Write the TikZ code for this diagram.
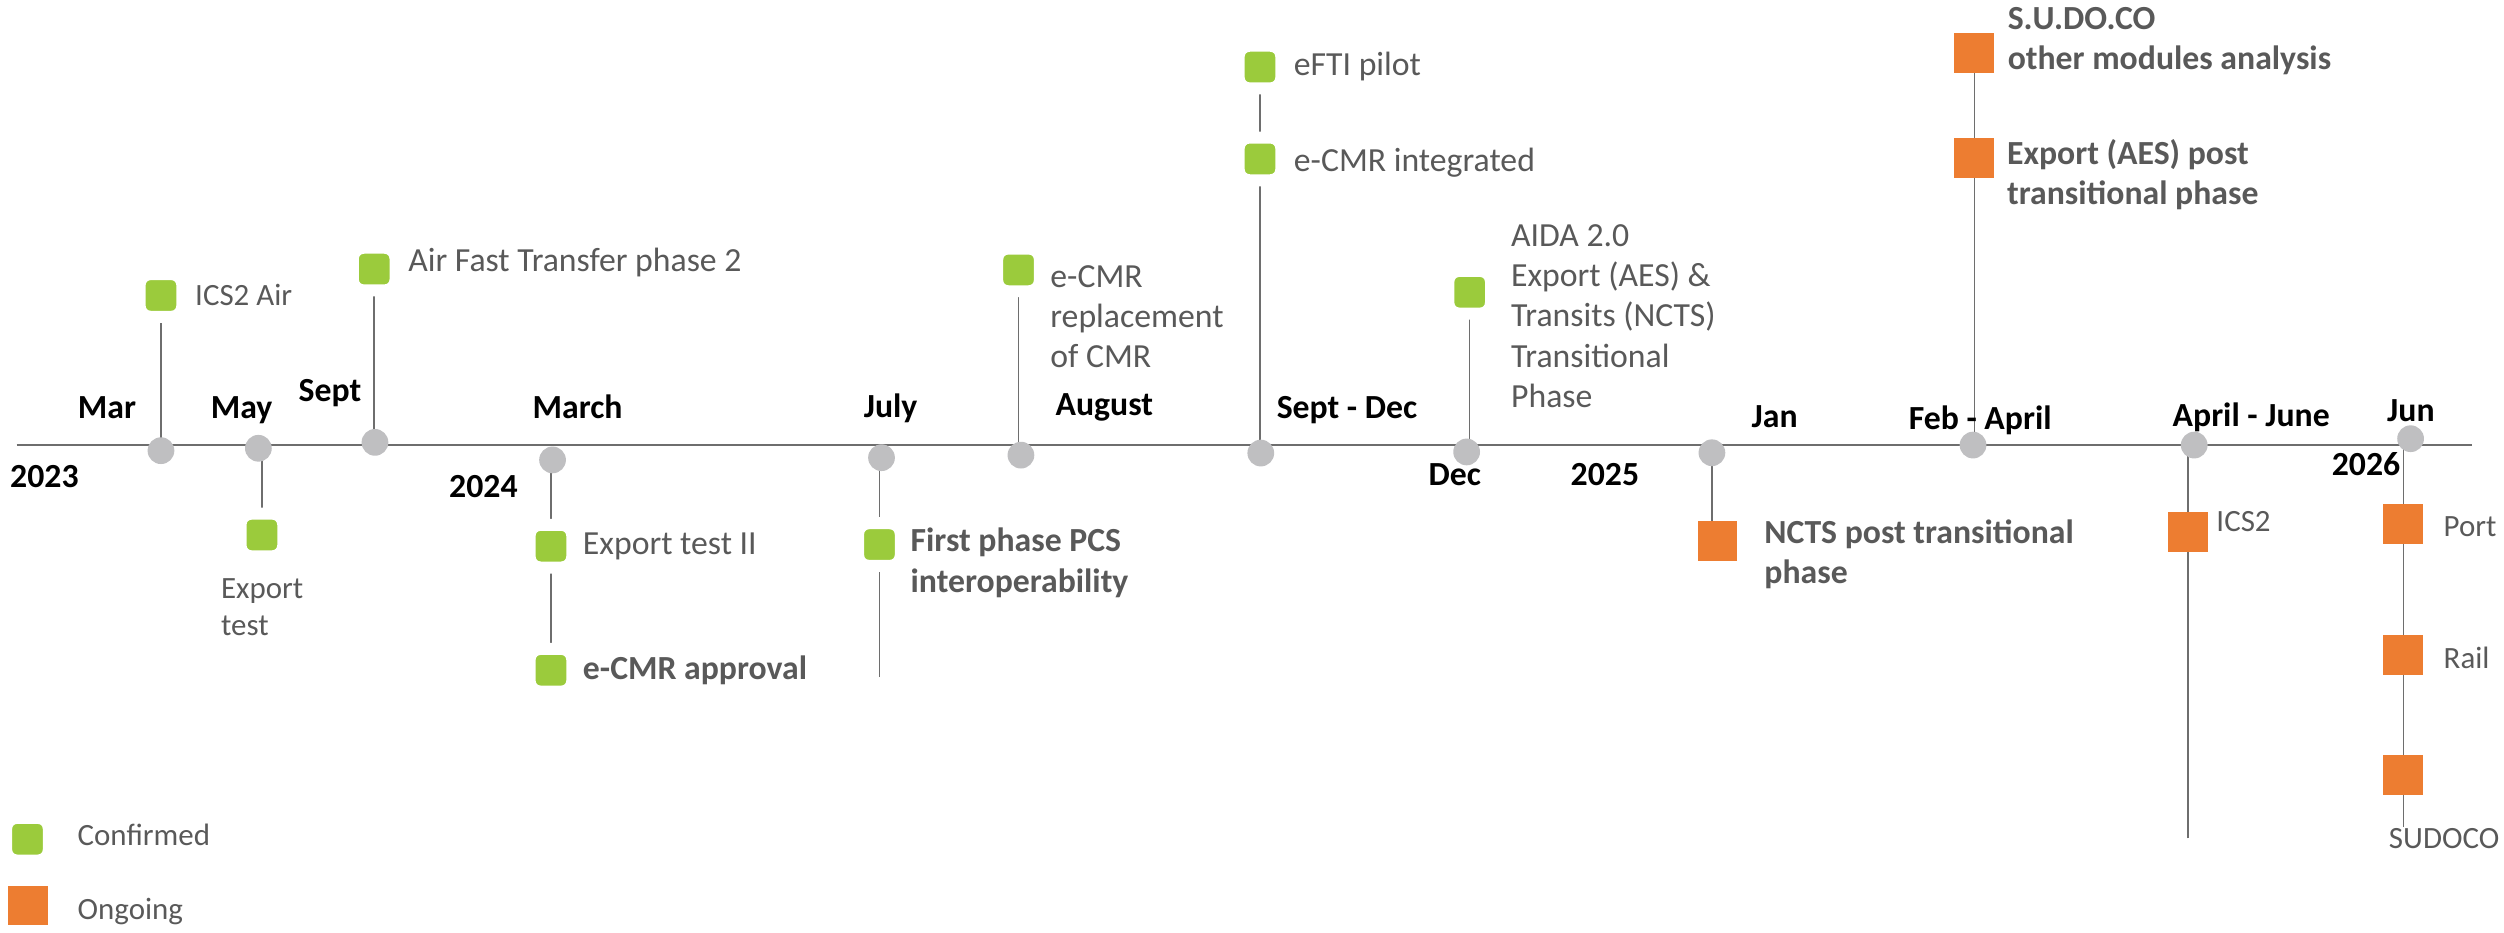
\documentclass[tikz,border=0pt]{standalone}
\usepackage{fontspec}
\setmainfont{Carlito}
\usetikzlibrary{backgrounds}
\definecolor{okgreen}{HTML}{9BCB3C}
\definecolor{wiporange}{HTML}{ED7D31}
\definecolor{dotgrey}{HTML}{BFBFC1}
\definecolor{linegrey}{HTML}{6E6E6E}
\definecolor{txtgrey}{HTML}{595959}
\newcommand{\tlbig}{\fontsize{16.9pt}{20.2pt}\selectfont}
\newcommand{\tlsmall}{\fontsize{15.5pt}{18.4pt}\selectfont}

\begin{document}
\begin{tikzpicture}[x=0.8pt, y=-0.8pt,
    mdot/.style={circle, fill=dotgrey, inner sep=0, minimum size=13.4pt},
    done/.style={rectangle, rounded corners=5.4pt, fill=okgreen, draw=white, line width=6pt, inner sep=0, minimum size=21.4pt},
    wip/.style={rectangle, fill=wiporange, inner sep=0, minimum size=20pt},
    month/.style={font=\tlbig\bfseries, inner sep=0},
    lbl/.style={font=\tlbig, text=txtgrey, inner sep=0, anchor=west, align=left},
    slbl/.style={lbl, font=\tlsmall},
    stem/.style={draw=linegrey, line width=0.8pt}]
    \useasboundingbox (0,0) rectangle (1568,584);

    % time axis
    \coordinate (tlStart) at (10.4,278.6);
    \coordinate (tlEnd) at (1548,278.6);
    \draw [linegrey, line width=1pt] (tlStart) -- (tlEnd);

    % dates on the axis
    \node [mdot] (dMar) at (100.8,282.2) {};
    \node [mdot] (dMay) at (161.8,280.7) {};
    \node [mdot] (dSept) at (234.8,277) {};
    \node [mdot] (dMarch) at (346,288) {};
    \node [mdot] (dJuly) at (552,286.6) {};
    \node [mdot] (dAug) at (639.3,285) {};
    \node [mdot] (dSeptDec) at (789.5,283.7) {};
    \node [mdot] (dDec) at (918.4,283) {};
    \node [mdot] (dJan) at (1072,283.5) {};
    \node [mdot] (dFeb) at (1235.5,278.7) {};
    \node [mdot] (dApr) at (1374,278.7) {};
    \node [mdot] (dJun) at (1509.5,274.7) {};

    \node [month] (mMar) at (67,255.3) {Mar};
    \node [month] (mMay) at (151.3,256.7) {May};
    \node [month] (mSept) at (206.6,246) {Sept};
    \node [month] (mMarch) at (361.7,254.6) {March};
    \node [month] (mJuly) at (557.7,255.6) {July};
    \node [month] (mAug) at (691.5,255) {August};
    \node [month] (mSeptDec) at (843.5,256.7) {Sept - Dec};
    \node [month] (mJan) at (1111.3,260.8) {Jan};
    \node [month] (mFeb) at (1240,263.2) {Feb - April};
    \node [month] (mApr) at (1409.7,261.3) {April - June};
    \node [month] (mJun) at (1509.7,257.2) {Jun};
    \node [month] (y2023) at (27.8,298.5) {2023};
    \node [month] (y2024) at (302.7,304.7) {2024};
    \node [month] (mDec) at (911,297.4) {Dec};
    \node [month] (y2025) at (1005,297.4) {2025};
    \node [month] (y2026) at (1481.6,290.7) {2026};

    % confirmed steps
    \node [done] (icsAir) at (100.8,185) {};
    \node [slbl] (icsAirL) at (122,184.7) {ICS2 Air};
    \node [done] (expTest) at (164,335) {};
    \node [slbl] (expTestL) at (138.2,380) {Export\\test};
    \node [done] (aft) at (234.3,168.5) {};
    \node [lbl] (aftL) at (255.4,164.5) {Air Fast Transfer phase 2};
    \node [done] (expTest2) at (345,342) {};
    \node [lbl] (expTest2L) at (364.8,342) {Export test II};
    \node [done] (ecmrAppr) at (345,419.7) {};
    \node [lbl, font=\tlbig\bfseries] (ecmrApprL) at (364.8,419.6) {e-CMR approval};
    \node [done] (pcs) at (550.7,341) {};
    \node [lbl, font=\tlbig\bfseries] (pcsL) at (570,352.5) {First phase PCS\\interoperability};
    \coordinate (pcsEnd) at (550.7,424);
    \node [done] (ecmrRepl) at (637.8,169) {};
    \node [lbl] (ecmrReplL) at (657.5,198.3) {e-CMR\\replacement\\of CMR};
    \node [done] (efti) at (789,42) {};
    \node [lbl] (eftiL) at (810,41.7) {eFTI pilot};
    \node [done] (ecmrInt) at (789,99.5) {};
    \node [lbl] (ecmrIntL) at (810,102) {e-CMR integrated};
    \node [done] (aida) at (920.3,183) {};
    \node [lbl] (aidaL) at (946,197.9) {AIDA 2.0\\Export (AES) \&\\Transits (NCTS)\\Transitional\\Phase};

    % ongoing steps
    \node [wip] (ncts) at (1075.5,339) {};
    \node [lbl, font=\tlbig\bfseries] (nctsL) at (1104.6,347) {NCTS post transitional\\phase};
    \node [wip] (sudoco) at (1236.3,33) {};
    \node [lbl, font=\tlbig\bfseries] (sudocoL) at (1257,25.7) {S.U.DO.CO\\other modules analysis};
    \node [wip] (aes) at (1236.3,99) {};
    \node [lbl, font=\tlbig\bfseries] (aesL) at (1256.6,109.5) {Export (AES) post\\transitional phase};
    \node [wip] (ics2) at (1370.2,333) {};
    \node [slbl] (ics2L) at (1387.7,326.6) {ICS2};
    \coordinate (ics2End) at (1370.2,525);
    \node [wip] (port) at (1505,328) {};
    \node [slbl] (portL) at (1530,330) {Port};
    \node [wip] (rail) at (1505,410) {};
    \node [slbl] (railL) at (1530,412) {Rail};
    \node [wip] (sudocoB) at (1505,485.5) {};
    \node [slbl, anchor=center] (sudocoBL) at (1530.5,525) {SUDOCO};
    \coordinate (sudocoEnd) at (1505,518);

    % legend
    \node [done] (keyDone) at (17.2,525.5) {};
    \node [slbl] (keyDoneL) at (48.4,523) {Confirmed};
    \node [wip] (keyWip) at (17.3,567) {};
    \node [slbl] (keyWipL) at (48.4,571) {Ongoing};

    \begin{pgfonlayer}{background}
        \draw [stem] (icsAir.center) -- (icsAir |- dMar);
        \draw [stem] (expTest.center) -- (expTest |- dMay);
        \draw [stem] (aft.center) -- (aft |- dSept);
        \draw [stem] (ecmrAppr.center) -- (expTest2.center) -- (expTest2 |- dMarch);
        \draw [stem] (pcsEnd) -- (pcs.center) -- (pcs |- dJuly);
        \draw [stem] (ecmrRepl.center) -- (ecmrRepl |- dAug);
        \draw [stem] (efti.center) -- (ecmrInt.center) -- (ecmrInt |- dSeptDec);
        \draw [stem] (aida.center) -- (aida |- dDec);
        \draw [stem] (dJan.center) -- (dJan |- ncts.north);
        \draw [stem] (sudoco.center) -- (aes.center) -- (aes |- dFeb);
        \draw [stem] (ics2End) -- (ics2.center) -- (ics2 |- dApr);
        \draw [stem] (sudocoEnd) -- (sudocoB.center) -- (rail.center) -- (port.center) -- (port |- dJun);
    \end{pgfonlayer}
\end{tikzpicture}
\end{document}
